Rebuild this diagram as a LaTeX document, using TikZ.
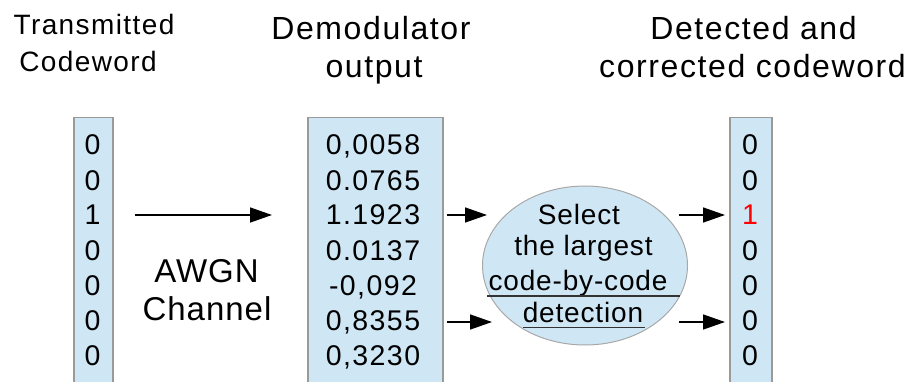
\documentclass[tikz,border=0pt]{standalone}
\usepackage{fontspec}
\setmainfont{Liberation Sans}
\newfontfamily\spfive[LetterSpace=5]{Liberation Sans}
\newfontfamily\spthree[LetterSpace=3]{Liberation Sans}
\usetikzlibrary{arrows.meta,shapes.geometric}
\definecolor{boxfill}{HTML}{CFE7F5}
\definecolor{boxline}{HTML}{9A9A9A}
\definecolor{ellline}{HTML}{A8A8A8}
\definecolor{ulcol}{HTML}{333333}
\begin{document}
\begin{tikzpicture}[x=1pt,y=-1pt,
  col/.style={draw=boxline, line width=1.5pt, fill=boxfill, anchor=north west, inner sep=0pt, minimum height=290pt},
  lbl/.style={inner sep=0pt, anchor=base},
  hdr/.style={lbl, font=\spfive\fontsize{32}{36}\selectfont},
  subhdr/.style={lbl, font=\spfive\fontsize{28}{32}\selectfont},
  digit/.style={lbl, font=\spfive\fontsize{28.5}{32}\selectfont},
  chan/.style={lbl, font=\spthree\fontsize{33}{36}\selectfont},
  elltext/.style={lbl, font=\spthree\fontsize{28}{32}\selectfont},
  arr/.style={line width=1.5pt, -{Triangle[length=22pt,width=15pt]}},
  uline/.style={draw=ulcol, line width=1.5pt},
]
\useasboundingbox (0,0) rectangle (915,382);
\clip (0,0) rectangle (915,382);

% headers
\node[subhdr] (h1a) at (94,35) {Transmitted};
\node[subhdr] (h1b) at (88,72) {Codeword};
\node[hdr] (h2a) at (371,40) {Demodulator};
\node[hdr] (h2b) at (374,78) {output};
\node[hdr] (h3a) at (753.5,40) {Detected and};
\node[hdr] (h3b) at (752.5,78) {corrected codeword};

% columns
\node[col, minimum width=39pt] (tbox) at (73,117) {};
\node[col, minimum width=135pt] (dbox) at (307,117) {};
\node[col, minimum width=42pt] (rbox) at (729,117) {};

% transmitted digits
\foreach \v [count=\i] in {0,0,1,0,0,0,0}
  \node[digit] (t\i) at (92.5,{155+35*(\i-1)}) {\v};

% demodulator values
\foreach \v [count=\i] in {{0,0058},{0.0765},{1.1923},{0.0137},{-0,092},{0,8355},{0,3230}}
  \node[digit] (d\i) at (373,{155+35*(\i-1)}) {\v};

% detected digits
\foreach \v [count=\i] in {0,0,{\textcolor{red}{1}},0,0,0,0}
  \node[digit] (r\i) at (750,{155+35*(\i-1)}) {\v};

% channel label
\node[chan] (awgn) at (206.5,282) {AWGN};
\node[chan] (chn) at (207,320) {Channel};

% selection ellipse
\node[ellipse, draw=ellline, line width=1pt, fill=boxfill, inner sep=0pt,
      minimum width=205pt, minimum height=159pt] (sel) at (585,265.5) {};
\node[elltext] (s1) at (579,225) {Select};
\node[elltext] (s2) at (583.5,255) {the largest};
\node[elltext] (s3) at (578,290) {code-by-code};
\node[elltext] (s4) at (583,322) {detection};
\draw[uline] (487,296) -- (680,296);
\draw[uline] (523,327.5) -- (645,327.5);

% arrow end points
\coordinate (a1s) at (135,215);
\coordinate (a1e) at (272,215);
\coordinate (a2s) at (447,215);
\coordinate (a2e) at (487,215);
\coordinate (a3s) at (447,322);
\coordinate (a3e) at (492,322);
\coordinate (a4s) at (679,215);
\coordinate (a4e) at (725,215);
\coordinate (a5s) at (679,322);
\coordinate (a5e) at (725,322);
\draw[arr] (a1s) -- (a1e);
\draw[arr] (a2s) -- (a2e);
\draw[arr] (a3s) -- (a3e);
\draw[arr] (a4s) -- (a4e);
\draw[arr] (a5s) -- (a5e);
\end{tikzpicture}
\end{document}
